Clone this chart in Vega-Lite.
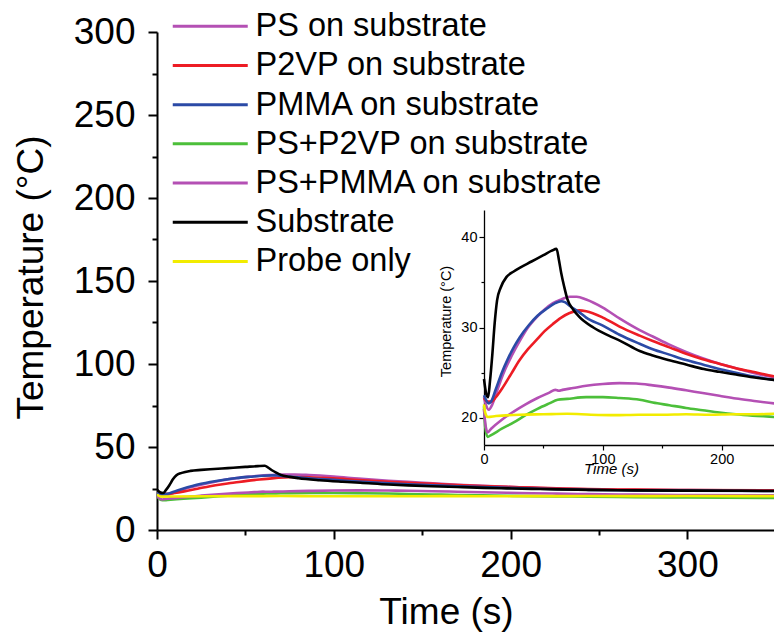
{
  "$schema": "https://vega.github.io/schema/vega-lite/v6.json",
  "autosize": {"type": "none"},
  "width": 617,
  "height": 498,
  "padding": {"left": 157, "top": 32, "right": 0, "bottom": 105},
  "background": "white",
  "config": {
    "view": {"stroke": null},
    "font": "Liberation Sans",
    "axis": {"grid": false, "domainColor": "black", "tickColor": "black", "labelColor": "black", "titleColor": "black", "labelFont": "Liberation Sans", "titleFont": "Liberation Sans", "titleFontWeight": "normal"},
    "legend": {"labelFont": "Liberation Sans", "labelColor": "black"}
  },
  "datasets": {
    "d": [
      {"s":"PS on substrate","t":0,"T":22.3},{"s":"PS on substrate","t":2,"T":21.3},{"s":"PS on substrate","t":4,"T":20.9},{"s":"PS on substrate","t":7,"T":21.5},{"s":"PS on substrate","t":11,"T":23},{"s":"PS on substrate","t":16,"T":24.8},{"s":"PS on substrate","t":23,"T":26.8},{"s":"PS on substrate","t":30,"T":28.5},{"s":"PS on substrate","t":37,"T":30},{"s":"PS on substrate","t":44,"T":31.1},{"s":"PS on substrate","t":51,"T":32},{"s":"PS on substrate","t":58,"T":32.7},{"s":"PS on substrate","t":65,"T":33.1},{"s":"PS on substrate","t":72,"T":33.4},{"s":"PS on substrate","t":78,"T":33.4},{"s":"PS on substrate","t":86,"T":33.1},{"s":"PS on substrate","t":100,"T":32.2},{"s":"PS on substrate","t":114,"T":31},{"s":"PS on substrate","t":131,"T":29.7},{"s":"PS on substrate","t":142,"T":29},{"s":"PS on substrate","t":156,"T":28.1},{"s":"PS on substrate","t":170,"T":27.3},{"s":"PS on substrate","t":184,"T":26.6},{"s":"PS on substrate","t":198,"T":26},{"s":"PS on substrate","t":212,"T":25.5},{"s":"PS on substrate","t":226,"T":25},{"s":"PS on substrate","t":244,"T":24.5},{"s":"PS on substrate","t":270,"T":24.2},{"s":"PS on substrate","t":300,"T":24},{"s":"PS on substrate","t":349,"T":23.8},
      {"s":"P2VP on substrate","t":0,"T":22.2},{"s":"P2VP on substrate","t":3,"T":21.8},{"s":"P2VP on substrate","t":6,"T":21.8},{"s":"P2VP on substrate","t":10,"T":22.3},{"s":"P2VP on substrate","t":16,"T":23.4},{"s":"P2VP on substrate","t":23,"T":24.9},{"s":"P2VP on substrate","t":30,"T":26.4},{"s":"P2VP on substrate","t":37,"T":27.6},{"s":"P2VP on substrate","t":44,"T":28.6},{"s":"P2VP on substrate","t":51,"T":29.6},{"s":"P2VP on substrate","t":58,"T":30.4},{"s":"P2VP on substrate","t":65,"T":31.1},{"s":"P2VP on substrate","t":72,"T":31.6},{"s":"P2VP on substrate","t":80,"T":31.9},{"s":"P2VP on substrate","t":86,"T":31.8},{"s":"P2VP on substrate","t":100,"T":31.1},{"s":"P2VP on substrate","t":114,"T":30.1},{"s":"P2VP on substrate","t":131,"T":29.1},{"s":"P2VP on substrate","t":142,"T":28.5},{"s":"P2VP on substrate","t":156,"T":27.8},{"s":"P2VP on substrate","t":170,"T":27.1},{"s":"P2VP on substrate","t":184,"T":26.5},{"s":"P2VP on substrate","t":198,"T":26},{"s":"P2VP on substrate","t":212,"T":25.5},{"s":"P2VP on substrate","t":226,"T":25.1},{"s":"P2VP on substrate","t":244,"T":24.6},{"s":"P2VP on substrate","t":270,"T":24.3},{"s":"P2VP on substrate","t":300,"T":24.1},{"s":"P2VP on substrate","t":349,"T":23.9},
      {"s":"PMMA on substrate","t":0,"T":22.5},{"s":"PMMA on substrate","t":2,"T":21.9},{"s":"PMMA on substrate","t":4,"T":21.6},{"s":"PMMA on substrate","t":6,"T":21.8},{"s":"PMMA on substrate","t":10,"T":23.2},{"s":"PMMA on substrate","t":15,"T":25},{"s":"PMMA on substrate","t":20,"T":26.5},{"s":"PMMA on substrate","t":25,"T":27.8},{"s":"PMMA on substrate","t":30,"T":28.9},{"s":"PMMA on substrate","t":38,"T":30.3},{"s":"PMMA on substrate","t":45,"T":31.3},{"s":"PMMA on substrate","t":53,"T":32.1},{"s":"PMMA on substrate","t":60,"T":32.7},{"s":"PMMA on substrate","t":65,"T":32.9},{"s":"PMMA on substrate","t":68,"T":32.8},{"s":"PMMA on substrate","t":72,"T":32.4},{"s":"PMMA on substrate","t":80,"T":31.7},{"s":"PMMA on substrate","t":86,"T":31.1},{"s":"PMMA on substrate","t":100,"T":30.2},{"s":"PMMA on substrate","t":114,"T":29.2},{"s":"PMMA on substrate","t":131,"T":28.2},{"s":"PMMA on substrate","t":142,"T":27.6},{"s":"PMMA on substrate","t":156,"T":27},{"s":"PMMA on substrate","t":170,"T":26.4},{"s":"PMMA on substrate","t":184,"T":25.9},{"s":"PMMA on substrate","t":198,"T":25.4},{"s":"PMMA on substrate","t":212,"T":25},{"s":"PMMA on substrate","t":226,"T":24.6},{"s":"PMMA on substrate","t":244,"T":24.2},{"s":"PMMA on substrate","t":270,"T":23.9},{"s":"PMMA on substrate","t":300,"T":23.7},{"s":"PMMA on substrate","t":349,"T":23.5},
      {"s":"PS+P2VP on substrate","t":0,"T":21.3},{"s":"PS+P2VP on substrate","t":1,"T":19},{"s":"PS+P2VP on substrate","t":3,"T":17.9},{"s":"PS+P2VP on substrate","t":6,"T":18.1},{"s":"PS+P2VP on substrate","t":15,"T":18.8},{"s":"PS+P2VP on substrate","t":25,"T":19.5},{"s":"PS+P2VP on substrate","t":35,"T":20.3},{"s":"PS+P2VP on substrate","t":45,"T":21},{"s":"PS+P2VP on substrate","t":55,"T":21.6},{"s":"PS+P2VP on substrate","t":62,"T":22},{"s":"PS+P2VP on substrate","t":70,"T":22.1},{"s":"PS+P2VP on substrate","t":86,"T":22.3},{"s":"PS+P2VP on substrate","t":100,"T":22.3},{"s":"PS+P2VP on substrate","t":114,"T":22.2},{"s":"PS+P2VP on substrate","t":131,"T":22},{"s":"PS+P2VP on substrate","t":142,"T":21.7},{"s":"PS+P2VP on substrate","t":156,"T":21.4},{"s":"PS+P2VP on substrate","t":170,"T":21.1},{"s":"PS+P2VP on substrate","t":184,"T":20.85},{"s":"PS+P2VP on substrate","t":198,"T":20.6},{"s":"PS+P2VP on substrate","t":212,"T":20.4},{"s":"PS+P2VP on substrate","t":226,"T":20.25},{"s":"PS+P2VP on substrate","t":244,"T":20.1},{"s":"PS+P2VP on substrate","t":270,"T":19.8},{"s":"PS+P2VP on substrate","t":300,"T":19.6},{"s":"PS+P2VP on substrate","t":349,"T":19.3},
      {"s":"PS+PMMA on substrate","t":0,"T":21},{"s":"PS+PMMA on substrate","t":1,"T":19.5},{"s":"PS+PMMA on substrate","t":3,"T":18.4},{"s":"PS+PMMA on substrate","t":6,"T":18.8},{"s":"PS+PMMA on substrate","t":15,"T":19.8},{"s":"PS+PMMA on substrate","t":25,"T":20.7},{"s":"PS+PMMA on substrate","t":35,"T":21.5},{"s":"PS+PMMA on substrate","t":45,"T":22.2},{"s":"PS+PMMA on substrate","t":55,"T":22.8},{"s":"PS+PMMA on substrate","t":60,"T":23.1},{"s":"PS+PMMA on substrate","t":63,"T":23},{"s":"PS+PMMA on substrate","t":66,"T":23.1},{"s":"PS+PMMA on substrate","t":75,"T":23.3},{"s":"PS+PMMA on substrate","t":86,"T":23.55},{"s":"PS+PMMA on substrate","t":100,"T":23.75},{"s":"PS+PMMA on substrate","t":114,"T":23.85},{"s":"PS+PMMA on substrate","t":128,"T":23.8},{"s":"PS+PMMA on substrate","t":142,"T":23.6},{"s":"PS+PMMA on substrate","t":156,"T":23.35},{"s":"PS+PMMA on substrate","t":170,"T":23.05},{"s":"PS+PMMA on substrate","t":184,"T":22.75},{"s":"PS+PMMA on substrate","t":198,"T":22.45},{"s":"PS+PMMA on substrate","t":212,"T":22.15},{"s":"PS+PMMA on substrate","t":226,"T":21.9},{"s":"PS+PMMA on substrate","t":244,"T":21.6},{"s":"PS+PMMA on substrate","t":270,"T":21.3},{"s":"PS+PMMA on substrate","t":300,"T":21.1},{"s":"PS+PMMA on substrate","t":349,"T":20.9},
      {"s":"Probe only","t":0,"T":21.5},{"s":"Probe only","t":1,"T":20.6},{"s":"Probe only","t":3,"T":20.1},{"s":"Probe only","t":10,"T":20.2},{"s":"Probe only","t":30,"T":20.35},{"s":"Probe only","t":50,"T":20.4},{"s":"Probe only","t":70,"T":20.45},{"s":"Probe only","t":90,"T":20.35},{"s":"Probe only","t":110,"T":20.3},{"s":"Probe only","t":130,"T":20.35},{"s":"Probe only","t":150,"T":20.35},{"s":"Probe only","t":170,"T":20.4},{"s":"Probe only","t":190,"T":20.35},{"s":"Probe only","t":210,"T":20.4},{"s":"Probe only","t":230,"T":20.4},{"s":"Probe only","t":244,"T":20.45},{"s":"Probe only","t":270,"T":20.4},{"s":"Probe only","t":300,"T":20.45},{"s":"Probe only","t":349,"T":20.4},
      {"s":"Substrate","t":0,"T":24.3},{"s":"Substrate","t":2,"T":22.6},{"s":"Substrate","t":3.5,"T":22.3},{"s":"Substrate","t":5,"T":24},{"s":"Substrate","t":7,"T":27},{"s":"Substrate","t":9,"T":30.5},{"s":"Substrate","t":11,"T":33},{"s":"Substrate","t":14,"T":34.4},{"s":"Substrate","t":19,"T":35.6},{"s":"Substrate","t":25,"T":36.2},{"s":"Substrate","t":30,"T":36.6},{"s":"Substrate","t":40,"T":37.3},{"s":"Substrate","t":50,"T":38},{"s":"Substrate","t":57,"T":38.5},{"s":"Substrate","t":61,"T":38.7},{"s":"Substrate","t":63,"T":37.5},{"s":"Substrate","t":65,"T":36},{"s":"Substrate","t":67.5,"T":34.5},{"s":"Substrate","t":70,"T":33.2},{"s":"Substrate","t":75,"T":32},{"s":"Substrate","t":80,"T":31.2},{"s":"Substrate","t":92,"T":30},{"s":"Substrate","t":105,"T":29.1},{"s":"Substrate","t":115,"T":28.5},{"s":"Substrate","t":131,"T":27.4},{"s":"Substrate","t":142,"T":26.9},{"s":"Substrate","t":155,"T":26.4},{"s":"Substrate","t":170,"T":25.9},{"s":"Substrate","t":185,"T":25.4},{"s":"Substrate","t":198,"T":25.1},{"s":"Substrate","t":212,"T":24.8},{"s":"Substrate","t":226,"T":24.5},{"s":"Substrate","t":244,"T":24.2},{"s":"Substrate","t":270,"T":23.9},{"s":"Substrate","t":300,"T":23.7},{"s":"Substrate","t":330,"T":23.6},{"s":"Substrate","t":349,"T":23.5}
    ]
  },
  "data": {"name": "d"},
  "layer": [
    {
      "mark": {"type": "line", "strokeWidth": 2.6, "clip": true, "interpolate": "monotone"},
      "encoding": {
        "x": {
          "field": "t", "type": "quantitative",
          "scale": {"domain": [0, 349], "nice": false, "zero": false},
          "axis": {
            "orient": "bottom",
            "values": [0, 50, 100, 150, 200, 250, 300],
            "labelExpr": "datum.value % 100 === 0 ? datum.label : ''",
            "tickSize": {"condition": {"test": "datum.value % 100 !== 0", "value": 5}, "value": 9},
            "tickWidth": 2, "domainWidth": 2,
            "labelFontSize": 37, "labelPadding": 8, "labelFlush": false,
            "title": "Time (s)", "titleFontSize": 37,
            "titleX": 289, "titleY": 93, "titleAlign": "center", "titleBaseline": "alphabetic"
          }
        },
        "y": {
          "field": "T", "type": "quantitative",
          "scale": {"domain": [0, 300], "nice": false},
          "axis": {
            "orient": "left",
            "values": [0, 25, 50, 75, 100, 125, 150, 175, 200, 225, 250, 275, 300],
            "labelExpr": "datum.value % 50 === 0 ? datum.label : ''",
            "tickSize": {"condition": {"test": "datum.value % 50 !== 0", "value": 5}, "value": 9},
            "tickWidth": 2, "domainWidth": 2,
            "labelFontSize": 37, "labelPadding": 13, "labelFlush": false,
            "title": "Temperature (°C)", "titleFontSize": 37,
            "titleX": -115, "titleY": 245, "titleAngle": -90, "titleAlign": "center", "titleBaseline": "alphabetic"
          }
        },
        "color": {
          "field": "s", "type": "nominal",
          "scale": {
            "domain": ["PS on substrate", "P2VP on substrate", "PMMA on substrate", "PS+P2VP on substrate", "PS+PMMA on substrate", "Substrate", "Probe only"],
            "range": ["#b450b4", "#ed1c24", "#2b4aa6", "#4cbf3a", "#b450b4", "#000000", "#f2ec00"]
          },
          "legend": {
            "orient": "none", "legendX": 15, "legendY": -22, "title": null,
            "symbolType": "M-7.5,0H7.5", "symbolSize": 100, "symbolStrokeWidth": 3,
            "symbolOffset": 22, "labelOffset": 29, "labelFontSize": 32.5, "labelLimit": 500,
            "rowPadding": 6.2, "padding": 0
          }
        }
      }
    },
    {
      "mark": {"type": "line", "strokeWidth": 2.6, "clip": true, "interpolate": "monotone"},
      "encoding": {
        "x": {
          "field": "t", "type": "quantitative",
          "scale": {"domain": [0, 244], "range": [327, 617], "nice": false, "zero": false},
          "axis": {
            "orient": "bottom", "offset": -85,
            "values": [0, 50, 100, 150, 200],
            "labelExpr": "datum.value % 100 === 0 ? datum.label : ''",
            "tickSize": {"condition": {"test": "datum.value % 100 !== 0", "value": 3}, "value": 5},
            "tickWidth": 1.2, "domainWidth": 1.3,
            "labelFontSize": 14.5, "labelPadding": 2, "labelFlush": false,
            "title": "Time (s)", "titleFontSize": 15, "titleFontStyle": "italic",
            "titleX": 454, "titleY": 28, "titleAlign": "center", "titleBaseline": "alphabetic"
          }
        },
        "y": {
          "field": "T", "type": "quantitative",
          "scale": {"domain": [17, 43], "range": [413, 178], "nice": false, "zero": false},
          "axis": {
            "orient": "left", "offset": -327,
            "values": [20, 25, 30, 35, 40],
            "labelExpr": "datum.value % 10 === 0 ? datum.label : ''",
            "tickSize": {"condition": {"test": "datum.value % 10 !== 0", "value": 3}, "value": 5},
            "tickWidth": 1.2, "domainWidth": 1.3,
            "labelFontSize": 14.5, "labelPadding": 2, "labelFlush": false,
            "title": "Temperature (°C)", "titleFontSize": 14.5,
            "titleX": -33.5, "titleY": 289, "titleAngle": -90, "titleAlign": "center", "titleBaseline": "alphabetic"
          }
        },
        "color": {"field": "s", "type": "nominal"}
      }
    }
  ],
  "resolve": {"scale": {"x": "independent", "y": "independent"}}
}
